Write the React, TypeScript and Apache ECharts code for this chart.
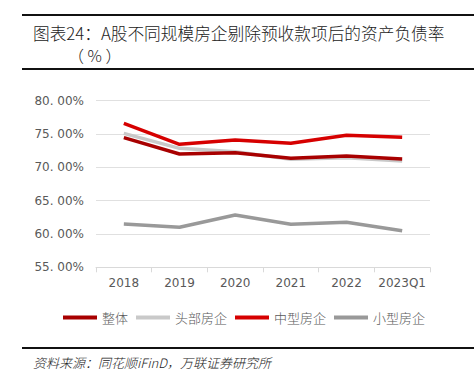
import React, { useEffect, useRef } from "react";
import * as echarts from "echarts";

const categories = ["2018", "2019", "2020", "2021", "2022", "2023Q1"];
const overall = [74.45, 72.0, 72.2, 71.35, 71.7, 71.25];
const topFirms = [75.1, 72.85, 72.35, 71.2, 71.45, 70.95];
const midFirms = [76.6, 73.45, 74.1, 73.6, 74.8, 74.5];
const smallFirms = [61.5, 61.0, 62.85, 61.45, 61.75, 60.5];
const seriesNames = ["整体", "头部房企", "中型房企", "小型房企"];
const seriesColors = ["#A80000", "#C9C9C9", "#D60000", "#999999"];

export default function App() {
  const ref = useRef<HTMLDivElement>(null);
  useEffect(() => {
    document.body.style.margin = "0";
    const chart = echarts.init(ref.current!, null, { renderer: "svg" });
    const datasets = [overall, topFirms, midFirms, smallFirms];
    chart.setOption({
      animation: false,
      backgroundColor: "#ffffff",
      grid: { left: 96, right: 44, top: 100.7, bottom: 115.7 },
      xAxis: {
        type: "category",
        data: categories,
        boundaryGap: true,
        axisLine: { lineStyle: { color: "#D9D9D9", width: 1 } },
        axisTick: { show: true, length: 5, lineStyle: { color: "#D9D9D9" } },
        axisLabel: { color: "#595959", fontSize: 12, margin: 10, interval: 0, fontFamily: "DejaVu Sans" },
      },
      yAxis: {
        type: "value",
        min: 55,
        max: 80,
        interval: 5,
        axisLine: { show: false },
        axisTick: { show: false },
        splitLine: { lineStyle: { color: "#E0E0E0", width: 1 } },
        axisLabel: {
          color: "#595959",
          fontSize: 12,
          margin: 12,
          fontFamily: "DejaVu Sans",
          formatter: (v: number) => v.toFixed(2).replace(".", ". ") + "%",
        },
      },
      legend: {
        left: 58,
        top: 306,
        icon: "rect",
        itemWidth: 34,
        itemHeight: 4,
        itemGap: 8,
        textStyle: { color: "#595959", fontSize: 13, fontWeight: 300, fontFamily: "Noto Sans CJK SC" },
        data: seriesNames,
      },
      series: datasets.map((d, i) => ({
        name: seriesNames[i],
        type: "line",
        data: d,
        symbol: "none",
        z: i === 0 ? 5 : 2,
        lineStyle: { color: seriesColors[i], width: 3.5 },
        itemStyle: { color: seriesColors[i] },
      })),
      graphic: [
        { type: "rect", shape: { x: 22, y: 14, width: 452, height: 2 }, style: { fill: "#111" } },
        { type: "rect", shape: { x: 22, y: 68, width: 452, height: 2 }, style: { fill: "#111" } },
        { type: "rect", shape: { x: 22, y: 347, width: 452, height: 2 }, style: { fill: "#111" } },
        {
          type: "text",
          x: 33,
          y: 33,
          style: {
            text: "图表24：A股不同规模房企剔除预收款项后的资产负债率",
            fontSize: 16.7,
            fontWeight: 300,
            fill: "#222",
            fontFamily: "Noto Sans CJK SC",
            verticalAlign: "middle",
          },
        },
        {
          type: "text",
          x: 68,
          y: 55,
          style: {
            text: "（ % ）",
            fontSize: 16,
            fontWeight: 300,
            fill: "#222",
            fontFamily: "Noto Sans CJK SC",
            verticalAlign: "middle",
          },
        },
        {
          type: "text",
          x: 33,
          y: 362,
          style: {
            text: "资料来源：同花顺iFinD，万联证券研究所",
            fontSize: 13,
            fontStyle: "italic",
            fontWeight: 300,
            fill: "#222",
            fontFamily: "Noto Sans CJK SC",
            verticalAlign: "middle",
          },
        },
      ],
    });
    return () => chart.dispose();
  }, []);
  return <div ref={ref} style={{ width: 474, height: 383, position: "absolute", left: 0, top: 0 }} />;
}
